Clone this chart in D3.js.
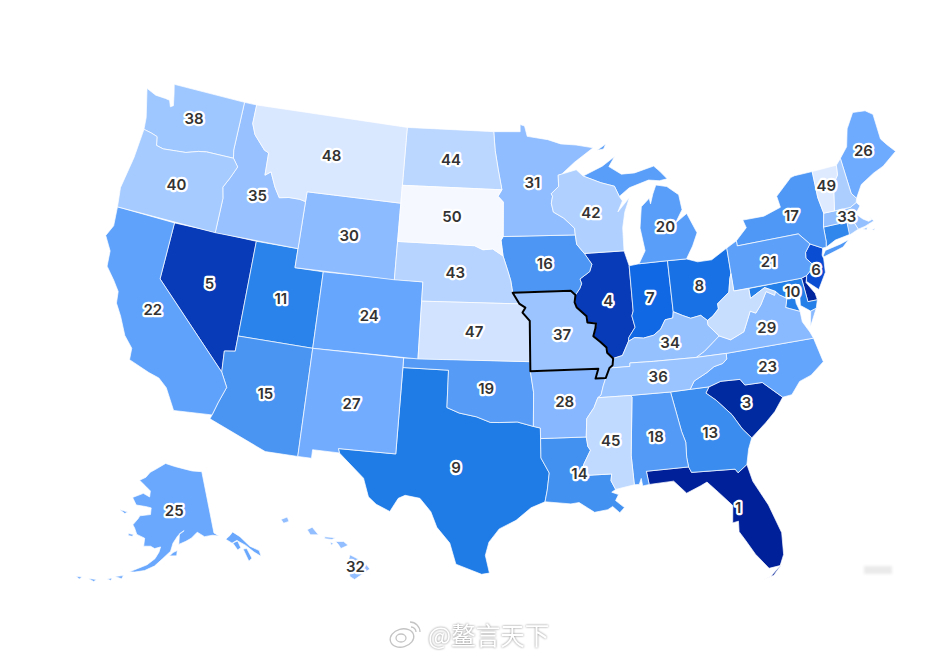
<!DOCTYPE html>
<html>
<head>
<meta charset="utf-8">
<title>US states ranking</title>
<script src="https://d3js.org/d3.v7.min.js"></script>
<style>
html, body { margin: 0; padding: 0; background: #fff; }
svg { display: block; }
.label { font-family: Inter, "Noto Sans", sans-serif; font-size: 15px; font-weight: 600; fill: #333; text-anchor: middle; dominant-baseline: central; paint-order: stroke; stroke: #fff; stroke-width: 4.5px; stroke-linejoin: round; }
.state { stroke: #fff; stroke-width: 0.7px; stroke-linejoin: round; }
</style>
</head>
<body>
<script>
// rank per state
var stateCodes = ["FL","DE","SC","IL","NV","NJ","IN","OH","TX","MD","UT","CT","GA","LA","AZ","IA","NY","AL","OK","MI","PA","CA","NC","CO","AK","ME","NM","AR","VA","WY","MN","HI","MA","KY","ID","TN","MO","WA","RI","OR","NH","WI","NE","ND","MS","WV","KS","MT","VT","SD"];
var stateRanks = [1,2,3,4,5,6,7,8,9,10,11,12,13,14,15,16,17,18,19,20,21,22,23,24,25,26,27,28,29,30,31,32,33,34,35,36,37,38,39,40,41,42,43,44,45,46,47,48,49,50];

var rankStops = [1,3,4,5,6,7,9,11,15,22,27,28,31,37,40,45,48,49,50];
var rankColors = ["#00209a","#002aa0","#073bb8","#073bb8","#0a4cd2","#1068e4","#1f7be6","#2a83ea","#4a94f2","#5fa2fb","#72acff","#86b7ff","#90bdff","#9cc5ff","#a6cbff","#c0daff","#d9e7ff","#deeaff","#f5f8ff"];

// labels that do not sit on the shape centroid, lon/lat
var labelAt = {
  NJ:[-74.68,40.0], MD:[-76.6,39.12], VT:[-72.6,44.1], MA:[-71.7,42.3], AK:[-153,64.2], HI:[-155.6,19.65],
  FL:[-82.35,28.55], MI:[-84.65,43.55], VA:[-78.75,37.55], LA:[-91.7,31.1], ID:[-114.6,44.35], NY:[-75.55,43.0],
  WA:[-120.55,47.55], CA:[-119.95,37.35]
};

// shared borders, lon/lat
var stCroix = [[-92.01,46.71],[-92.29,46.66],[-92.29,46.07],[-92.87,45.7],[-92.77,45.57],[-92.88,45.2],[-92.75,44.74]];
var missMNWI = [[-92.75,44.74],[-92,44.4],[-91.25,43.85],[-91.22,43.5]];
var missIAWI = [[-91.22,43.5],[-91.15,43],[-90.64,42.51]];
var missIAIL = [[-90.64,42.51],[-90.15,41.93],[-90.34,41.55],[-91.05,41.2],[-90.95,40.95],[-91.1,40.7],[-91.42,40.38]];
var missMOIL = [[-91.42,40.38],[-91.5,40],[-91.37,39.73],[-90.73,39.25],[-90.7,38.93],[-90.12,38.85],[-90.18,38.6],[-90.35,38.2],[-89.9,37.88],[-89.52,37.57],[-89.5,37.3],[-89.13,36.98]];
var missMOKY = [[-89.13,36.98],[-89.2,36.63],[-89.42,36.5]];
var missARTN = [[-89.7,36],[-89.9,35.6],[-90.08,35.13],[-90.3,35]];
var missARMS = [[-90.3,35],[-90.58,34.5],[-91.08,33.95],[-91.17,33]];
var missLAMS = [[-91.17,33],[-91.1,32.5],[-90.95,32.3],[-91.4,31.6],[-91.6,31]];
var ohioWVOH = [[-80.52,40.64],[-80.65,40.4],[-80.87,39.7],[-81.75,39.2],[-81.75,38.93],[-82.2,38.6],[-82.6,38.42]];
var ohioKYOH = [[-82.6,38.42],[-83,38.73],[-83.7,38.65],[-84.23,38.85],[-84.82,39.1]];
var ohioKYIN = [[-84.82,39.1],[-84.9,38.78],[-85.43,38.73],[-85.8,38.27],[-86.3,38],[-87,37.9],[-87.6,37.97],[-88.03,37.8]];
var ohioKYIL = [[-88.03,37.8],[-88.5,37.1],[-89.13,36.98]];
var wabash = [[-87.53,41.7],[-87.53,39.35],[-87.65,39.1],[-87.5,38.5],[-87.98,38],[-88.03,37.8]];
var moIANE = [[-96.45,42.49],[-96.1,41.7],[-95.9,41.2],[-95.77,40.58]];
var moMONE = [[-95.77,40.58],[-95.3,40]];
var moMOKS = [[-95.3,40],[-94.9,39.8],[-95.1,39.55],[-94.61,39.11],[-94.62,37]];
var bigSioux = [[-96.45,43.5],[-96.6,43.3],[-96.45,42.49]];
var sdNE = [[-96.45,42.49],[-97.2,42.85],[-97.9,42.8],[-98.5,43],[-104.05,43]];
var redRiver = [[-100,34.56],[-99.2,34.3],[-98.1,34.13],[-97.2,33.85],[-96.6,33.85],[-95.5,33.88],[-94.48,33.64]];
var delNY = [[-75.35,42],[-74.7,41.36]];
var delNJ = [[-74.7,41.36],[-75.13,40.98],[-75.2,40.68],[-74.75,40.2],[-75.4,39.8]];
var columbia = [[-124,46.27],[-123.4,46.2],[-122.9,46.1],[-122.75,45.65],[-122.2,45.57],[-121.2,45.65],[-120.5,45.7],[-119.6,45.92],[-119,46],[-116.92,46]];
var snake = [[-116.92,46],[-116.47,45.6],[-116.85,44.95],[-117.22,44.4],[-117.03,43.83],[-117.03,42]];
var mtID = [[-116.05,49],[-116.05,48],[-115.7,47.45],[-114.75,46.75],[-114.4,46.65],[-114.35,45.47],[-113.95,45.7],[-113.45,44.95],[-113,44.45],[-112.3,44.55],[-111.5,44.55],[-111.05,44.48]];
var colorado = [[-114.05,36.2],[-114.75,36.1],[-114.65,35],[-114.15,34.27],[-114.5,33.4],[-114.72,32.72]];
var ncTN = [[-81.68,36.59],[-81.7,36.3],[-82,36.1],[-82.6,36],[-83.1,35.75],[-84,35.4],[-84.32,35]];
var kyNorthTN = [[-89.42,36.5],[-88.07,36.5],[-88.05,36.68],[-86.5,36.65],[-83.68,36.6]];
var gaSC = [[-83.1,35],[-83.35,34.7],[-82.75,34.25],[-81.9,33.4],[-81.4,32.6],[-80.9,32.05]];
var vaWV = [[-77.72,39.32],[-77.83,39.13],[-78.35,39.4],[-78.87,38.77],[-79.3,38.4],[-79.65,38.55],[-80.3,37.55],[-81.25,37.25],[-81.97,37.54]];
var potomac = [[-76.35,38.05],[-77,38.3],[-77.25,38.4],[-77.05,38.85],[-77.5,39.1],[-77.72,39.32]];

function rev(a) { return a.slice().reverse(); }
function ring() { return Array.prototype.concat.apply([], arguments); }

var outlines = {
  WA: [ring([[-122.75,49],[-117.03,49],[-117.04,46.42]], rev(columbia), [[-124.1,46.9],[-124.7,48.38],[-123.9,48.17],[-123.1,48.15],[-122.75,48.12],[-122.55,47.8],[-122.35,47.9],[-122.55,48.5]])],
  OR: [ring(columbia, snake, [[-124.2,42],[-124.4,43],[-124.1,44.7]])],
  CA: [[[-124.2,42],[-124.07,41],[-124.4,40.4],[-123.8,39.7],[-123.7,38.9],[-123,38.3],[-122.5,37.8],[-122.4,37.2],[-121.9,36.6],[-121.3,35.7],[-120.65,35.15],[-120.6,34.55],[-119.2,34.15],[-118.5,34],[-117.9,33.6],[-117.13,32.53],[-114.72,32.72],[-114.5,33.4],[-114.15,34.27],[-114.65,35],[-120,39],[-120,42]]],
  NV: [ring([[-120,42],[-114.05,42]], colorado.slice(0,3), [[-120,39]])],
  ID: [ring([[-117.03,49]], mtID, [[-111.05,42]], rev(snake), [[-117.04,46.42]])],
  MT: [ring([[-116.05,49],[-104.05,49],[-104.05,45],[-111.05,45]], rev(mtID))],
  WY: [[[-111.05,45],[-104.05,45],[-104.05,41],[-111.05,41]]],
  UT: [[[-114.05,42],[-111.05,42],[-111.05,41],[-109.05,41],[-109.05,37],[-114.05,37]]],
  AZ: [ring([[-114.05,37],[-109.05,37],[-109.05,31.33],[-111.07,31.33],[-114.8,32.5]], rev(colorado))],
  CO: [[[-109.05,41],[-102.05,41],[-102.05,37],[-109.05,37]]],
  NM: [[[-109.05,37],[-103,37],[-103.05,32],[-106.62,32],[-106.53,31.78],[-108.2,31.78],[-108.2,31.33],[-109.05,31.33]]],
  ND: [[[-104.05,49],[-97.23,49],[-97.1,48],[-96.85,47],[-96.56,45.94],[-104.05,45.94]]],
  SD: [ring([[-104.05,45.94],[-96.56,45.94],[-96.85,45.6],[-96.45,45.3]], bigSioux, sdNE)],
  NE: [ring([[-104.05,43]], rev(sdNE), moIANE, moMONE, [[-102.05,40],[-102.05,41],[-104.05,41]])],
  KS: [ring([[-102.05,40]], moMOKS, [[-102.05,37]])],
  OK: [ring([[-103,37],[-94.62,37],[-94.62,36.5],[-94.43,35.4]], rev(redRiver), [[-100,36.5],[-103,36.5]])],
  TX: [ring([[-103,36.5],[-100,36.5]], redRiver, [[-94.04,33.55],[-94.04,33],[-94.04,31.99],[-93.55,31.2],[-93.7,30.3],[-93.85,29.7],[-94.7,29.4],[-95.6,28.75],[-96.6,28.3],[-97.2,27.6],[-97.4,26.9],[-97.15,25.97],[-97.6,25.9],[-99.1,26.4],[-99.5,27.5],[-100.3,28.3],[-100.7,29.1],[-101.4,29.77],[-102.3,29.88],[-102.7,29.7],[-103.15,28.98],[-104,29.3],[-104.5,29.65],[-104.9,30.6],[-106,31.4],[-106.53,31.78],[-106.62,32],[-103.05,32]])],
  MN: [ring([[-97.23,49],[-95.15,49],[-95.15,49.38],[-94.8,49.3],[-94.6,48.75],[-93,48.55],[-92,48.3],[-90.8,48.2],[-89.5,48],[-91,47.3]], stCroix, missMNWI, [[-96.45,43.5],[-96.45,45.3],[-96.85,45.6],[-96.56,45.94],[-96.85,47],[-97.1,48]])],
  IA: [ring([[-96.45,43.5]], missIAWI, missIAIL, [[-91.73,40.61]], rev(moIANE), rev(bigSioux).slice(1))],
  MO: [ring([[-95.77,40.58],[-91.73,40.61]], missMOIL, missMOKY, [[-89.7,36],[-90.37,36],[-90.15,36.5],[-94.62,36.5]], rev(moMOKS), rev(moMONE))],
  AR: [ring([[-94.62,36.5],[-90.15,36.5],[-90.37,36]], missARTN, missARMS, [[-94.04,33],[-94.04,33.55],[-94.48,33.64],[-94.43,35.4]])],
  LA: [ring([[-94.04,33]], missLAMS, [[-89.73,31],[-89.8,30.65],[-89.55,30.18],[-89.8,30.05],[-89.4,29.9],[-89.6,29.6],[-89.1,29.2],[-89.4,28.95],[-89.8,29.3],[-90.1,29.15],[-90.9,29.05],[-91.3,29.3],[-91.8,29.6],[-92.3,29.55],[-93.85,29.7],[-93.7,30.3],[-93.55,31.2],[-94.04,31.99]])],
  WI: [ring([[-92.01,46.71],[-90.9,46.9],[-90.4,46.55],[-89.1,46.14],[-88.1,45.9],[-87.8,45.35],[-87.6,45.1],[-88,44.55],[-87.05,45.25],[-87.5,44.5],[-87.75,43.7],[-87.8,42.5]], rev(missIAWI), rev(missMNWI), rev(stCroix))],
  IL: [ring([[-90.64,42.51],[-87.8,42.5]], wabash, ohioKYIL, rev(missMOIL), rev(missIAIL))],
  IN: [ring(wabash.slice(0,1), [[-86.82,41.76],[-84.8,41.76]], ohioKYIN, rev(wabash))],
  MI: [
    [[-86.82,41.76],[-86.3,42.4],[-86.5,43.6],[-86.25,44.7],[-85.6,45.1],[-85.55,44.8],[-85.3,45.3],[-85,45.75],[-84.2,45.6],[-83.4,45.1],[-83.3,44.3],[-83.9,43.65],[-83,44.07],[-82.45,43],[-82.9,42.35],[-83.45,41.73],[-84.8,41.76]],
    [[-90.4,46.55],[-89.1,46.14],[-88.1,45.9],[-87.8,45.35],[-87,45.75],[-85.5,46.05],[-84.7,45.95],[-84.1,46],[-84.6,46.45],[-85,46.75],[-86.5,46.5],[-87.5,46.5],[-88.4,46.95],[-87.9,47.45],[-88.9,47]],
    [[-89.2,47.85],[-88.5,48.15],[-88.7,47.9]]
  ],
  OH: [ring([[-84.8,41.76],[-83.45,41.73],[-82.7,41.5],[-81.7,41.5],[-80.52,41.98]], ohioWVOH, ohioKYOH)],
  KY: [ring(ohioKYOH, ohioKYIN, ohioKYIL, missMOKY, kyNorthTN, [[-83.1,36.85],[-81.97,37.54],[-82.6,38.17]])],
  TN: [ring(kyNorthTN, [[-81.68,36.59]], ncTN.slice(1), [[-85.6,34.98],[-88.2,35]], rev(missARTN))],
  MS: [ring([[-90.3,35],[-88.2,35],[-88.1,34.9],[-88.45,31.9],[-88.4,30.35],[-89.55,30.18],[-89.8,30.65],[-89.73,31]], rev(missLAMS), rev(missARMS))],
  AL: [[[-88.2,35],[-85.6,34.98],[-85.18,32.87],[-85,32.3],[-85.05,31.5],[-85,31],[-87.6,31],[-87.5,30.3],[-87.9,30.25],[-87.95,30.65],[-88.1,30.35],[-88.4,30.35],[-88.45,31.9],[-88.1,34.9]]],
  GA: [ring([[-85.6,34.98]], gaSC, [[-81.2,31.5],[-81.45,30.72],[-82.05,30.36],[-82.2,30.57],[-84.86,30.7],[-85,31],[-85.05,31.5],[-85,32.3],[-85.18,32.87]])],
  FL: [
    [[-87.6,31],[-85,31],[-84.86,30.7],[-82.2,30.57],[-82.05,30.36],[-81.45,30.72],[-81.25,29.8],[-80.55,28.45],[-80.05,26.9],[-80.15,25.75],[-80.45,25.2],[-81.1,25.15],[-81.75,26],[-82.2,26.8],[-82.5,27.3],[-82.45,27.85],[-82.8,27.8],[-82.65,28.7],[-83.4,29.5],[-84,30.1],[-84.4,29.95],[-85.3,29.65],[-85.4,29.75],[-86,30.35],[-87.5,30.3]],
    [[-80.3,25.3],[-80.9,24.75],[-81.8,24.55],[-81.1,24.7]]
  ],
  SC: [ring(gaSC, [[-79.9,32.7],[-79.2,33.2],[-78.55,33.86],[-79.67,34.8],[-80.8,34.82],[-81.05,35.15],[-82.3,35.2]])],
  NC: [ring(ncTN, [[-83.1,35],[-82.3,35.2],[-81.05,35.15],[-80.8,34.82],[-79.67,34.8],[-78.55,33.86],[-77.95,33.9],[-77.3,34.5],[-76.5,34.7],[-75.55,35.25],[-75.85,36.55]])],
  VA: [
    ring([[-83.68,36.6],[-81.68,36.59],[-75.85,36.55],[-76,36.9],[-76.35,37.5]], potomac, vaWV, [[-83.1,36.85]]),
    [[-75.65,37.95],[-75.25,38.03],[-75.9,37.15]]
  ],
  WV: [ring(ohioWVOH.slice(0,1), [[-80.52,39.72],[-79.48,39.72],[-79.48,39.2],[-78.4,39.62]], vaWV, [[-82.6,38.17]], rev(ohioWVOH))],
  MD: [ring([[-79.48,39.72],[-75.79,39.72],[-75.7,38.46],[-75.05,38.45],[-75.25,38.03],[-75.65,37.95],[-76.25,38.35],[-76.15,38.9],[-76.05,39.45],[-76.45,39.2],[-76.5,38.5]], potomac, [[-78.4,39.62],[-79.48,39.2]])],
  DE: [[[-75.79,39.72],[-75.4,39.8],[-75.55,39.45],[-75.1,38.8],[-75.05,38.45],[-75.7,38.46]]],
  PA: [ring([[-80.52,41.98],[-79.76,42.27],[-79.76,42]], delNY, delNJ, [[-75.79,39.72],[-80.52,39.72]])],
  NJ: [ring(delNJ.slice(0,1), [[-73.9,41],[-74.05,40.65],[-74,40.45],[-74.1,39.75],[-74.8,38.95],[-75.5,39.5]], rev(delNJ))],
  NY: [
    ring([[-79.76,42.27],[-78.9,42.85],[-79.05,43.27],[-77.5,43.27],[-76.2,43.55],[-76.3,44.15],[-75,44.95],[-74.7,45],[-73.35,45],[-73.4,43.6],[-73.25,42.75],[-73.5,42.05],[-73.55,41.3],[-73.65,41],[-73.9,41]], rev(delNY), [[-79.76,42]]),
    [[-74,40.6],[-73.75,40.85],[-72.65,40.98],[-72,41.1],[-72.5,40.8],[-73.9,40.55]]
  ],
  CT: [[[-73.5,42.05],[-71.8,42.02],[-71.8,41.35],[-72.9,41.25],[-73.65,41],[-73.55,41.3]]],
  RI: [[[-71.8,42.02],[-71.38,42.02],[-71.15,41.5],[-71.85,41.32]]],
  MA: [
    [[-73.5,42.05],[-73.25,42.75],[-72.46,42.73],[-71.3,42.7],[-70.8,42.87],[-70.6,42.65],[-71.05,42.3],[-70.65,41.95],[-70.3,41.75],[-70.05,41.8],[-70.2,42.07],[-69.95,41.7],[-70.65,41.55],[-71.15,41.5],[-71.38,42.02],[-71.8,42.02]],
    [[-70.85,41.45],[-70.5,41.47],[-70.6,41.35]],
    [[-70.25,41.3],[-70,41.3],[-70.1,41.23]]
  ],
  VT: [[[-73.35,45],[-71.5,45.01],[-71.6,44.5],[-72.05,44.1],[-72.46,42.73],[-73.25,42.75],[-73.4,43.6]]],
  NH: [[[-71.5,45.01],[-71.08,45.3],[-70.98,43.4],[-70.7,43.07],[-70.8,42.87],[-71.3,42.7],[-72.46,42.73],[-72.05,44.1],[-71.6,44.5]]],
  ME: [[[-71.08,45.3],[-70.4,45.8],[-70,46.7],[-69.25,47.45],[-68.3,47.35],[-67.8,47.05],[-67.8,45.7],[-67.45,45.3],[-67,44.85],[-68.2,44.3],[-69,44.1],[-70.1,43.7],[-70.7,43.07],[-70.98,43.4]]],
  AK: [
    [[-141,69.65],[-141,60.3],[-139.7,59.7],[-138,59],[-136.5,59.4],[-135.5,59.8],[-133.8,58.8],[-132,57],[-130,55.9],[-130.1,55],[-131.5,56],[-133,57.3],[-135,58.4],[-136.5,58.2],[-138,59],[-139.7,59.7],[-141.5,60],[-144,60],[-146,60.8],[-148,60],[-149.7,59.6],[-151.8,59.2],[-151.5,60.8],[-150,61.2],[-152,60.5],[-153.5,59.4],[-154.2,58.2],[-156.5,57],[-158.5,55.9],[-161,55.1],[-163.5,54.7],[-164.9,54.6],[-162.8,55.3],[-160.5,56],[-158.5,57],[-157.5,58],[-157.1,58.8],[-158.8,58.5],[-160,58.8],[-162,58.7],[-162,59.9],[-164.5,60.3],[-165.5,61.2],[-166.2,61.6],[-164.8,62.7],[-164.5,63.1],[-161,63.5],[-161,64.5],[-163,64.6],[-166.3,64.6],[-168.1,65.6],[-164.5,66.5],[-162,66.1],[-162,67],[-164,67.6],[-166.8,68.35],[-164.5,68.95],[-163,69.8],[-161,70.3],[-156.6,71.35],[-152.5,70.9],[-148,70.4],[-145,70]],
    [[-154.5,57.5],[-152.5,57.5],[-152.3,58.3],[-153.5,58]],
    [[-136.3,58.2],[-134.8,58.3],[-134.5,57.2],[-135.5,57]],
    [[-134,56.9],[-133,56.8],[-132.5,55.2],[-133.5,54.9]],
    [[-171.5,63.4],[-168.7,63.3],[-169.5,63]],
    [[-167,60.2],[-165.5,60.2],[-165.7,59.9],[-167,59.9]],
    [[-168.3,53.5],[-166.2,53.9],[-166.5,53.4]],
    [[-170,52.9],[-168.9,53.2],[-169,52.8]],
    [[-174.5,52.2],[-172.5,52.4],[-173,52]],
    [[-177.5,51.9],[-176,52.1],[-176.5,51.7]]
  ],
  HI: [
    [[-155.9,20.25],[-155.1,19.85],[-154.8,19.5],[-155.65,18.95],[-155.9,19.1],[-156.05,19.7]],
    [[-156.7,20.95],[-156.25,20.95],[-156,20.75],[-156.4,20.58],[-156.55,20.8]],
    [[-157.3,21.2],[-156.7,21.15],[-156.9,21.05],[-157.3,21.1]],
    [[-156.98,20.92],[-156.82,20.85],[-156.95,20.75]],
    [[-158.28,21.57],[-158,21.7],[-157.65,21.3],[-158.1,21.3]],
    [[-159.75,22.1],[-159.4,22.23],[-159.3,22],[-159.6,21.9]]
  ]
};

var width = 940, height = 656;

var rankColor = d3.scaleLinear().domain(rankStops).range(rankColors);

var projection = d3.geoAlbersUsa().scale(1095).translate([500.5, 329]);
var path = d3.geoPath(projection);

// close rings and keep them wound the small way round the sphere
var features = stateCodes.map(function (code, i) {
  var polys = outlines[code].map(function (r) {
    var closed = r.concat([r[0]]);
    if (d3.geoArea({type: "Polygon", coordinates: [closed]}) > 2 * Math.PI) closed.reverse();
    return [closed];
  });
  return {type: "Feature", id: code, rank: stateRanks[i], geometry: {type: "MultiPolygon", coordinates: polys}};
});

var svg = d3.select("body").append("svg").attr("width", width).attr("height", height);

var defs = svg.append("defs");
defs.append("filter").attr("id", "smudge").attr("x", "-30%").attr("y", "-60%").attr("width", "160%").attr("height", "220%")
  .append("feGaussianBlur").attr("stdDeviation", 1.6);

svg.append("g").selectAll("path").data(features).enter()
  .append("path")
  .attr("class", "state")
  .attr("d", path)
  .attr("fill", function (d) { return rankColor(d.rank); });

// Missouri is the highlighted one
svg.append("path")
  .datum(features.filter(function (d) { return d.id === "MO"; })[0])
  .attr("d", path)
  .attr("fill", "none")
  .attr("stroke", "#000")
  .attr("stroke-width", 2)
  .attr("stroke-linejoin", "round");

var hiddenLabels = {DE: 1, CT: 1, RI: 1, NH: 1, WV: 1};
svg.append("g").selectAll("text").data(features.filter(function (d) { return !hiddenLabels[d.id]; })).enter()
  .append("text")
  .attr("class", "label")
  .attr("transform", function (d) {
    var p = labelAt[d.id] ? projection(labelAt[d.id]) : path.centroid(d);
    return "translate(" + p[0] + "," + p[1] + ")";
  })
  .text(function (d) { return d.rank; });

// grey smudge bottom right
svg.append("rect").attr("x", 864).attr("y", 566).attr("width", 28).attr("height", 8)
  .attr("fill", "#eaeaea").attr("filter", "url(#smudge)");

// watermark
var mark = svg.append("g").attr("fill", "none").attr("stroke", "#c4c4c4").attr("stroke-width", 1.3);
mark.append("ellipse").attr("cx", 402).attr("cy", 638).attr("rx", 12).attr("ry", 9).attr("transform", "rotate(-15 402 638)");
mark.append("ellipse").attr("cx", 401).attr("cy", 638).attr("rx", 5).attr("ry", 4);
mark.append("path").attr("d", d3.arc()({innerRadius: 10, outerRadius: 10, startAngle: 0, endAngle: Math.PI / 2})).attr("transform", "translate(410,632)");
mark.append("path").attr("d", d3.arc()({innerRadius: 5, outerRadius: 5, startAngle: 0, endAngle: Math.PI / 2})).attr("transform", "translate(411,632)");
svg.append("text").attr("x", 428).attr("y", 634)
  .attr("dominant-baseline", "central")
  .style("font-family", '"Noto Sans CJK SC", sans-serif')
  .style("font-size", "24.5px")
  .style("fill", "#fff")
  .style("filter", "drop-shadow(0 0 1px #888)")
  .text("@鳌言天下");
</script>
</body>
</html>
